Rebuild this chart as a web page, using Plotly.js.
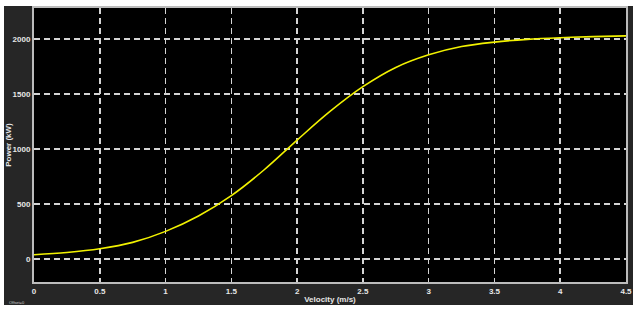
<!DOCTYPE html>
<html>
<head>
<meta charset="utf-8">
<script src="https://cdn.plot.ly/plotly-3.0.1.min.js"></script>
<style>
html,body{margin:0;padding:0;background:#ffffff;width:638px;height:314px;overflow:hidden;}
#chart{position:absolute;left:4px;top:6px;width:629px;height:299px;}
</style>
</head>
<body>
<div id="chart"></div>
<script>
const velocity = [0, 0.25, 0.5, 0.75, 1, 1.25, 1.5, 1.75, 2, 2.25, 2.5, 2.75, 3, 3.25, 3.5, 3.75, 4, 4.25, 4.5];
const power = [38, 58, 92, 150, 250, 390, 575, 810, 1080, 1340, 1565, 1740, 1855, 1930, 1970, 1995, 2010, 2020, 2027];
const xTicks = [0, 0.5, 1, 1.5, 2, 2.5, 3, 3.5, 4, 4.5];
const xTickLabels = ['0', '0.5', '1', '1.5', '2', '2.5', '3', '3.5', '4', '4.5'];
const yTicks = [0, 500, 1000, 1500, 2000];
const yTickLabels = ['0', '500', '1000', '1500', '2000'];

const fontFam = '"Liberation Sans", Arial, sans-serif';
const trace = {
  x: velocity, y: power, type: 'scatter', mode: 'lines',
  line: {color: '#f2f200', width: 1.6, shape: 'spline', smoothing: 1},
  hoverinfo: 'skip'
};
const axisCommon = {
  showgrid: true, gridcolor: '#d4d4d4', gridwidth: 1.5, griddash: '6px,4px',
  zeroline: false, showline: true, mirror: true, linecolor: '#bcbcbc', linewidth: 2,
  ticks: '', tickfont: {family: fontFam, size: 8, color: '#e6e6e6', weight: 'bold'}
};
const layout = {
  width: 629, height: 299,
  margin: {l: 30, r: 7, t: 2, b: 23},
  paper_bgcolor: '#262626', plot_bgcolor: '#000000',
  showlegend: false,
  xaxis: Object.assign({}, axisCommon, {
    range: [0, 4.5], tickvals: xTicks, ticktext: xTickLabels,
    title: {text: '<b>Velocity (m/s)</b>', font: {family: fontFam, size: 8, color: '#e6e6e6'}, standoff: 2}
  }),
  yaxis: Object.assign({}, axisCommon, {
    range: [-210, 2280], tickvals: yTicks, ticktext: yTickLabels,
    title: {text: '<b>Power (kW)</b>', font: {family: fontFam, size: 8, color: '#e6e6e6'}, standoff: 6}
  }),
  annotations: [{
    text: 'Offset=0', xref: 'paper', yref: 'paper', x: -0.045, y: -0.075,
    xanchor: 'left', yanchor: 'middle', showarrow: false,
    font: {family: fontFam, size: 4, color: '#cfcfcf'}
  }]
};
Plotly.newPlot('chart', [trace], layout, {staticPlot: true, displayModeBar: false});
</script>
</body>
</html>
